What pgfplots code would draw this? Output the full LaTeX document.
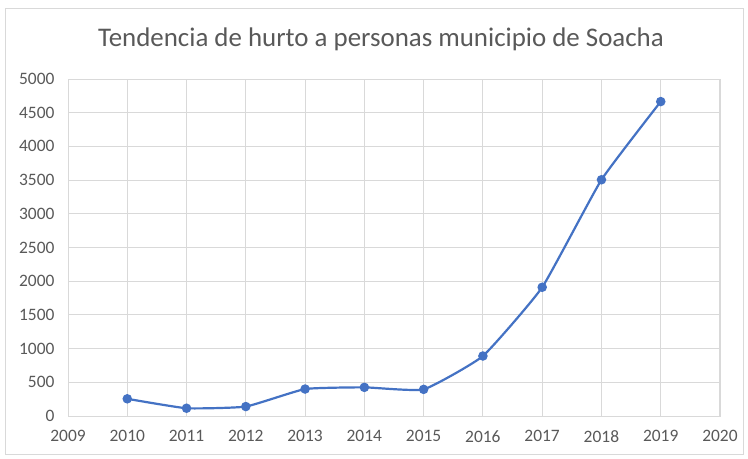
\documentclass[border=0pt]{standalone}
\usepackage{pgfplots}
\pgfplotsset{compat=1.18}
\usepackage{fontspec}
\setmainfont{Carlito}
\definecolor{serie}{HTML}{4472C4}
\definecolor{rejilla}{HTML}{D9D9D9}
\definecolor{texto}{HTML}{595959}
\begin{document}
\begin{tikzpicture}[x=1bp,y=1bp]
\useasboundingbox (0,0) rectangle (748,459);
\fill[white] (0,0) rectangle (748,459);
\draw[rejilla, line width=1bp] (5,4) rectangle (743,450);
\node[text=texto, font=\fontsize{27}{30}\selectfont] at (381,420) {Tendencia de hurto a personas municipio de Soacha};
\begin{axis}[
  at={(68bp,43bp)}, anchor=south west,
  scale only axis, width=652bp, height=337bp,
  xmin=2009, xmax=2020, ymin=0, ymax=5000,
  xtick={2009,...,2020}, ytick={0,500,...,5000},
  grid=major, major grid style={rejilla, line width=0.9bp},
  axis line style={rejilla, line width=0.9bp},
  tick style={draw=none},
  ticklabel style={text=texto, font=\fontsize{17.5}{19}\selectfont},
  /pgf/number format/assume math mode=true,
  xticklabel style={/pgf/number format/1000 sep={}},
  yticklabel style={/pgf/number format/1000 sep={}},
  xtick pos=bottom, ytick pos=left,
  xticklabel shift=11bp, yticklabel shift=10bp,
  clip=false,
]
\addplot[serie, line width=2.2bp, smooth, tension=0.25,
  mark=*, mark size=3.6bp, mark options={fill=serie, draw=serie, solid}]
  coordinates {
  (2010,255) (2011,115) (2012,140) (2013,400) (2014,425)
  (2015,395) (2016,890) (2017,1910) (2018,3505) (2019,4665)
};
\end{axis}
\end{tikzpicture}
\end{document}
